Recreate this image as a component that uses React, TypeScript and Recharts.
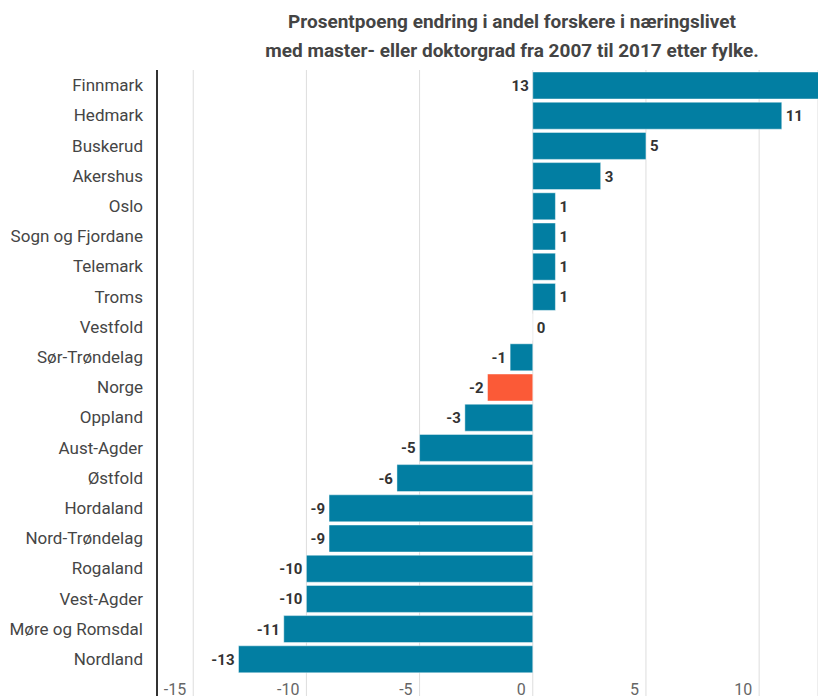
import React from "react";
import {
  BarChart,
  Bar,
  XAxis,
  YAxis,
  CartesianGrid,
  Cell,
} from "recharts";

const fylker = [
  "Finnmark",
  "Hedmark",
  "Buskerud",
  "Akershus",
  "Oslo",
  "Sogn og Fjordane",
  "Telemark",
  "Troms",
  "Vestfold",
  "Sør-Trøndelag",
  "Norge",
  "Oppland",
  "Aust-Agder",
  "Østfold",
  "Hordaland",
  "Nord-Trøndelag",
  "Rogaland",
  "Vest-Agder",
  "Møre og Romsdal",
  "Nordland",
];

const endring = [13, 11, 5, 3, 1, 1, 1, 1, 0, -1, -2, -3, -5, -6, -9, -9, -10, -10, -11, -13];

const xTicks = [-15, -10, -5, 0, 5, 10];
const xDomain: [number, number] = [-16.6, 12.6];

const highlight = "Norge";

const titleLines = [
  "Prosentpoeng endring i andel forskere i næringslivet",
  "med master- eller doktorgrad fra 2007 til 2017 etter fylke.",
];

const data = fylker.map((name, i) => ({ name, value: endring[i] }));

const FONT = "Roboto, 'Noto Sans', sans-serif";
const BLUE = "#027ea2";
const RED = "#fb5a37";

const CategoryTick = (props: any) => {
  const { x, y, payload } = props;
  return (
    <text
      x={x}
      y={y}
      dy="0.36em"
      textAnchor="end"
      fontFamily={FONT}
      fontSize={17}
      fontWeight={400}
      fill="#454545"
    >
      {payload.value}
    </text>
  );
};

const ValueTick = (props: any) => {
  const { x, y, payload } = props;
  return (
    <text
      x={x - 7}
      y={y - 1}
      textAnchor="end"
      fontFamily={FONT}
      fontSize={16}
      fill="#666"
    >
      {payload.value}
    </text>
  );
};

const ValueLabel = (props: any) => {
  const { x, y, width, height, value } = props;
  const left = Math.min(x, x + width);
  const right = Math.max(x, x + width);
  let tx = right + 4;
  let anchor: "start" | "end" = "start";
  if (value < 0) {
    tx = left - 4;
    anchor = "end";
  } else if (value > xDomain[1]) {
    // bar runs off the chart, so the number goes before the bar
    tx = left - 4;
    anchor = "end";
  }
  return (
    <text
      x={tx}
      y={y + height / 2}
      dy="0.36em"
      textAnchor={anchor}
      fontFamily={FONT}
      fontSize={15}
      fontWeight={700}
      fill="#333"
    >
      {value}
    </text>
  );
};

export default function App() {
  return (
    <div
      style={{
        position: "absolute",
        left: 0,
        top: 0,
        width: 818,
        height: 696,
        overflow: "hidden",
        background: "#fff",
      }}
    >
      <div
        style={{
          position: "absolute",
          left: 212,
          width: 600,
          top: 7,
          textAlign: "center",
          fontFamily: FONT,
          fontWeight: 700,
          fontSize: 19,
          lineHeight: "29px",
          color: "#444",
        }}
      >
        {titleLines.map((t) => (
          <div key={t}>{t}</div>
        ))}
      </div>
      <BarChart
        width={818}
        height={696}
        data={data}
        layout="vertical"
        margin={{ top: 70, right: 0, bottom: 0, left: 0 }}
        barSize={27}
      >
        <CartesianGrid horizontal={false} stroke="#ddd" strokeWidth={1} />
        <XAxis
          type="number"
          dataKey="value"
          domain={xDomain}
          allowDataOverflow
          ticks={xTicks}
          orientation="bottom"
          height={1}
          mirror
          axisLine={false}
          tickLine={false}
          tickSize={0}
          tickMargin={0}
          tick={<ValueTick />}
          interval={0}
        />
        <YAxis
          type="category"
          dataKey="name"
          width={157}
          padding={{ top: 0, bottom: 22 }}
          axisLine={{ stroke: "#333", strokeWidth: 2 }}
          tickLine={false}
          tickSize={0}
          tickMargin={14}
          tick={<CategoryTick />}
          interval={0}
        />
        <Bar
          dataKey="value"
          isAnimationActive={false}
          minPointSize={0.01}
          stroke="rgba(255,255,255,0.45)"
          strokeWidth={1}
          label={<ValueLabel />}
        >
          {data.map((d) => (
            <Cell key={d.name} fill={d.name === highlight ? RED : BLUE} />
          ))}
        </Bar>
      </BarChart>
    </div>
  );
}
